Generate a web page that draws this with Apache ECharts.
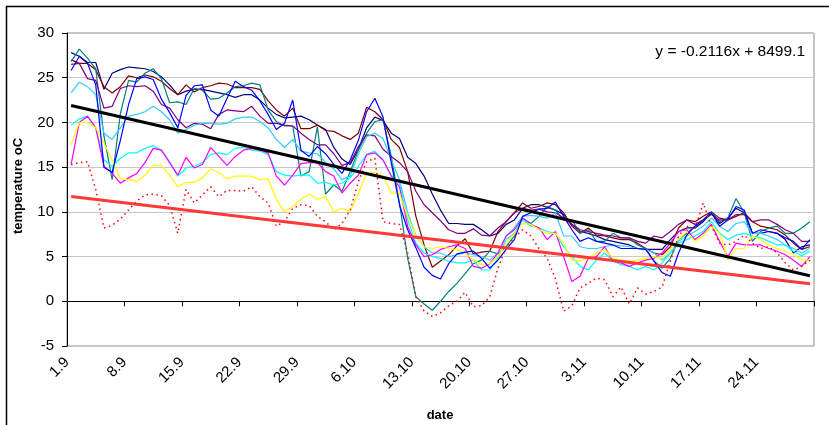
<!DOCTYPE html>
<html><head><meta charset="utf-8">
<script src="https://cdn.jsdelivr.net/npm/echarts@6/dist/echarts.min.js"></script>
<style>html,body{margin:0;padding:0;background:#fff}#c{width:829px;height:425px}</style>
</head><body><div id="c"></div>
<script>
// 91 daily values, 1.9 .. 30.11
const tickLabels = ['1.9','8.9','15.9','22.9','29.9','6.10','13.10','20.10','27.10','3.11','10.11','17.11','24.11'];
const navy = [27.8,27.4,26.7,26.7,23.7,25.5,25.9,26.2,26.1,26.0,25.7,25.1,24.2,23.1,23.5,
 23.7,23.7,23.5,23.3,23.1,22.8,23.1,23.1,22.5,21.6,20.9,20.5,20.6,20.7,20.3,19.7,
 19.2,17.2,15.9,15.3,17.0,19.4,20.6,20.2,18.8,18.2,16.1,15.4,14.0,12.0,10.2,
 8.7,8.7,8.6,8.6,8.0,7.3,7.6,8.6,9.1,10.4,10.8,10.8,10.5,10.2,9.7,
 8.6,7.8,7.6,7.3,6.9,6.7,6.5,6.3,5.9,5.8,5.8,5.8,6.9,7.8,8.2,
 8.2,8.9,9.9,8.7,9.3,10.4,9.9,7.6,7.6,7.8,7.6,6.9,5.4,6.1,6.3];
const maroon = [27.0,26.6,26.6,25.9,24.0,23.3,24.0,25.2,25.0,25.3,25.1,24.6,23.8,23.1,24.2,
 23.4,23.9,24.1,24.4,24.3,23.9,23.9,23.9,23.7,22.4,21.4,20.7,21.6,19.3,19.3,19.7,
 19.1,19.0,18.5,18.1,18.8,21.7,21.2,20.3,18.1,17.2,14.5,9.5,6.3,3.8,4.5,
 5.2,6.2,7.0,5.3,5.5,5.6,7.8,8.9,9.9,11.0,10.4,10.6,11.0,10.8,9.9,
 8.4,7.6,8.2,7.4,7.3,7.1,6.9,6.9,6.5,5.9,5.4,5.2,6.1,8.2,9.1,
 8.9,9.5,10.0,9.3,9.1,9.5,9.9,8.9,8.4,8.2,8.0,7.4,6.5,5.8,6.1];
const blue = [25.8,27.4,26.6,24.2,15.0,14.4,18.0,22.0,24.9,25.1,24.8,22.6,21.1,19.4,23.0,
 24.1,24.2,21.4,20.7,22.7,24.6,24.0,23.6,22.4,20.9,19.2,19.9,22.5,16.9,16.2,17.3,
 16.5,15.3,14.3,15.8,18.0,21.2,22.7,20.6,15.5,10.8,8.0,6.0,3.8,2.9,2.5,
 4.2,5.3,5.5,5.6,4.8,3.7,4.6,5.8,6.9,9.5,9.9,10.3,10.4,11.1,9.5,
 8.0,6.7,7.1,6.7,6.5,6.3,5.9,5.9,5.9,5.8,4.5,3.2,2.8,5.4,7.4,
 8.4,9.1,9.9,8.4,9.1,10.6,10.2,7.6,8.0,7.8,7.6,7.1,6.7,5.8,6.9];
const teal = [26.8,28.2,27.2,26.0,18.5,13.6,21.0,24.7,24.5,25.5,26.0,24.9,22.2,22.3,22.0,
 23.8,23.6,22.6,22.7,23.3,24.0,24.1,24.4,24.2,21.4,20.1,19.6,19.6,14.0,14.5,19.5,
 12.0,13.0,12.3,14.5,16.9,18.8,20.1,20.3,16.2,11.0,4.8,0.5,-0.3,-1.0,0.0,
 1.1,2.0,3.1,4.2,4.6,5.6,5.3,6.1,7.3,9.3,8.7,9.5,10.6,10.2,9.1,
 9.1,7.6,8.0,6.7,6.7,7.6,7.1,7.1,6.3,5.9,4.5,3.7,4.8,6.9,7.6,
 8.4,9.1,10.0,8.9,9.3,11.5,9.9,6.7,7.8,8.2,8.4,7.6,7.6,8.2,8.9];
const purple = [26.5,26.6,24.9,24.7,21.6,21.8,23.8,24.1,24.0,24.1,23.5,22.0,21.6,20.3,19.4,
 19.9,19.8,19.3,20.9,21.4,21.3,21.2,21.8,20.7,19.9,19.9,19.7,19.6,18.8,18.1,17.5,
 17.5,16.5,15.2,15.5,17.3,18.6,18.5,17.0,16.2,15.5,14.5,12.3,10.8,9.9,9.0,
 8.0,7.6,7.6,8.1,7.4,7.3,8.2,8.9,9.9,10.4,10.2,10.3,10.0,9.9,9.3,
 8.6,8.0,7.8,7.6,7.4,7.3,7.1,7.1,6.7,6.5,7.3,7.1,7.8,8.6,9.1,
 8.6,9.1,9.7,9.1,9.1,9.7,9.7,8.9,9.1,9.1,8.6,8.0,7.6,6.7,6.7];
const sky = [23.3,24.5,24.0,23.1,18.8,18.1,19.4,20.7,20.9,21.2,21.8,21.2,20.3,18.8,19.2,
 19.7,19.9,19.9,19.8,19.9,20.4,20.6,20.6,20.1,19.4,18.1,17.2,18.1,16.8,16.6,16.5,
 15.5,14.8,13.6,14.0,16.5,18.4,18.8,18.2,15.8,13.6,9.9,7.3,6.1,5.4,5.4,
 5.0,5.2,5.4,5.2,5.0,4.6,5.4,7.3,8.2,9.5,9.6,9.5,9.3,9.9,7.3,
 7.3,6.1,5.9,5.9,6.1,6.3,6.2,6.1,5.9,5.8,5.4,4.6,5.4,6.7,7.3,
 7.8,8.4,9.3,8.4,7.8,8.7,8.9,7.6,7.6,7.3,6.9,6.3,5.9,5.4,5.9];
const cyan = [19.7,20.4,20.7,19.4,15.8,15.1,16.0,16.6,16.6,17.1,17.4,16.9,15.6,14.0,14.9,
 15.1,15.5,16.4,16.6,16.4,17.1,17.2,16.9,16.8,16.4,14.5,14.1,14.0,14.1,14.1,13.2,
 13.3,13.0,13.2,13.8,15.1,16.4,16.8,15.8,14.1,13.2,9.1,6.5,5.4,5.0,4.8,
 4.5,4.3,4.3,4.6,3.5,3.5,4.8,6.9,7.6,9.1,8.4,8.2,7.8,7.6,6.1,
 5.0,3.9,3.5,4.6,5.4,4.5,4.1,3.9,3.5,3.9,3.5,4.3,5.4,6.5,6.9,
 7.3,7.8,8.9,7.6,6.9,7.4,7.6,7.3,7.1,6.7,6.3,6.3,5.6,5.1,5.6];
const magenta = [15.3,20.0,20.7,19.4,15.1,14.3,13.2,13.8,14.3,15.5,17.1,16.9,15.5,14.1,16.1,
 14.9,15.3,17.2,16.2,15.2,16.2,16.9,17.1,16.9,16.6,14.0,13.0,14.1,15.4,15.5,15.5,
 14.5,14.0,12.1,13.2,14.1,16.4,16.6,15.8,14.0,12.8,8.4,6.3,5.0,5.2,5.8,
 6.1,6.3,5.9,3.9,3.7,4.2,5.4,7.3,8.0,9.3,8.6,8.2,6.9,7.8,5.0,
 2.2,2.8,4.8,5.0,6.1,4.5,4.3,3.9,4.3,4.6,4.8,5.4,6.5,7.8,8.0,
 6.9,7.6,8.6,6.7,5.0,6.5,6.3,6.3,6.3,5.9,5.6,5.2,4.6,3.9,5.0];
const yellow = [17.5,20.0,20.0,19.4,17.7,15.8,13.7,13.6,13.4,14.1,15.2,15.2,14.1,12.8,13.3,
 13.3,13.8,14.8,14.4,13.7,14.0,14.0,14.0,13.6,13.7,11.4,10.0,10.6,11.4,12.0,11.4,
 11.7,10.0,10.4,10.0,12.1,14.3,14.4,14.0,12.1,12.1,9.5,7.3,6.1,5.9,6.1,
 5.9,5.8,5.4,4.6,4.1,4.2,5.0,6.5,7.6,8.7,8.6,8.0,7.6,7.6,6.5,
 4.6,4.5,4.8,5.4,5.8,4.8,4.6,4.5,4.6,4.8,5.0,4.8,5.8,6.9,7.8,
 6.7,7.3,8.4,7.6,4.6,5.9,5.9,7.3,6.9,6.3,5.9,5.6,5.2,4.6,4.6];
const redDotted = [15.3,15.5,15.6,12.5,8.2,8.5,9.2,10.2,11.2,11.9,12.0,11.8,10.7,7.6,12.5,
 11.0,11.9,12.8,11.7,12.4,12.4,12.3,12.8,11.7,11.0,8.4,8.9,10.4,10.8,10.7,9.5,
 8.9,8.0,8.7,10.2,13.4,15.6,16.0,8.9,8.7,8.6,5.4,0.5,-1.1,-1.7,-1.3,
 -0.5,0.0,1.0,-0.6,-0.5,0.5,3.7,6.1,7.1,8.0,7.3,5.9,4.8,2.5,-1.1,
 -0.5,1.5,2.0,2.6,2.4,0.5,1.6,-0.3,1.5,0.8,1.1,1.6,4.5,7.3,8.4,
 8.0,11.0,8.4,6.5,6.3,6.7,7.4,6.5,5.9,6.1,5.4,4.3,3.5,3.9,4.6];
// trend lines: value at first and last day
const blackTrend = [21.9, 2.86];
const redTrend = [11.72, 1.96];
const equationText = 'y = -0.2116x + 8499.1';

const FONT = 'Liberation Sans, Arial, sans-serif';
const pts = arr => arr.map((v, i) => [i + 0.5, v]);
const n = navy.length;
const mk = (name, data, color, extra) => Object.assign({
  name, type: 'line', data: pts(data), showSymbol: false, symbol: 'none',
  lineStyle: { color, width: 1.2 }, itemStyle: { color }, animation: false, z: 3
}, extra || {});

const chart = echarts.init(document.getElementById('c'), null, { renderer: 'canvas' });
chart.setOption({
  backgroundColor: '#fff',
  animation: false,
  grid: { left: 67, right: 15, top: 33, bottom: 79, show: true, borderColor: '#8a8a8a', borderWidth: 1 },
  xAxis: {
    type: 'value', min: 0, max: 91, interval: 7,
    axisLine: { show: true, lineStyle: { color: '#000', width: 1 } },
    axisTick: { show: true, inside: false, length: 5, lineStyle: { color: '#000' } },
    splitLine: { show: false },
    axisLabel: {
      rotate: 45, margin: 14, color: '#000', fontSize: 15, fontFamily: FONT,
      formatter: v => tickLabels[Math.round(v / 7)] || ''
    }
  },
  yAxis: {
    type: 'value', min: -5, max: 30, interval: 5,
    axisLine: { show: true, lineStyle: { color: '#000', width: 1 } },
    axisTick: { show: true, inside: false, length: 5, lineStyle: { color: '#000' } },
    splitLine: { show: true, lineStyle: { color: '#c8c8c8', width: 1 } },
    axisLabel: { margin: 13, color: '#000', fontSize: 15, fontFamily: FONT }
  },
  series: [
    mk('navy', navy, '#000080'),
    mk('maroon', maroon, '#800000'),
    mk('teal', teal, '#008080'),
    mk('purple', purple, '#800080'),
    mk('sky', sky, '#33ccff'),
    mk('cyan', cyan, '#00ffff'),
    mk('magenta', magenta, '#ff00ff'),
    mk('yellow', yellow, '#ffff00'),
    mk('blue', blue, '#0000ff'),
    mk('red', redDotted, '#ff0000', { lineStyle: { color: '#ff0000', width: 1.5, type: [1.5, 3.5] } }),
    { name: 'trendRed', type: 'line', data: [[0.5, redTrend[0]], [n - 0.5, redTrend[1]]], symbol: 'none',
      lineStyle: { color: '#ff3838', width: 3.2 }, z: 4, animation: false },
    { name: 'trendBlack', type: 'line', data: [[0.5, blackTrend[0]], [n - 0.5, blackTrend[1]]], symbol: 'none',
      lineStyle: { color: '#000', width: 3 }, z: 5, animation: false }
  ],
  graphic: [
    { type: 'rect', shape: { x: 6.5, y: 6.5, width: 900, height: 500 }, style: { fill: 'none', stroke: '#000', lineWidth: 1.5 }, z: 100 },
    { type: 'text', x: 805, y: 52, style: { text: equationText, font: '15.5px ' + FONT, fill: '#000', textAlign: 'right', textVerticalAlign: 'middle' }, z: 100 },
    { type: 'text', x: 18, y: 186, rotation: Math.PI / 2, style: { text: 'temperature oC', font: 'bold 13px ' + FONT, fill: '#000', textAlign: 'center', textVerticalAlign: 'middle' }, z: 100 },
    { type: 'text', x: 440, y: 415, style: { text: 'date', font: 'bold 13px ' + FONT, fill: '#000', textAlign: 'center', textVerticalAlign: 'middle' }, z: 100 }
  ]
});
</script></body></html>
